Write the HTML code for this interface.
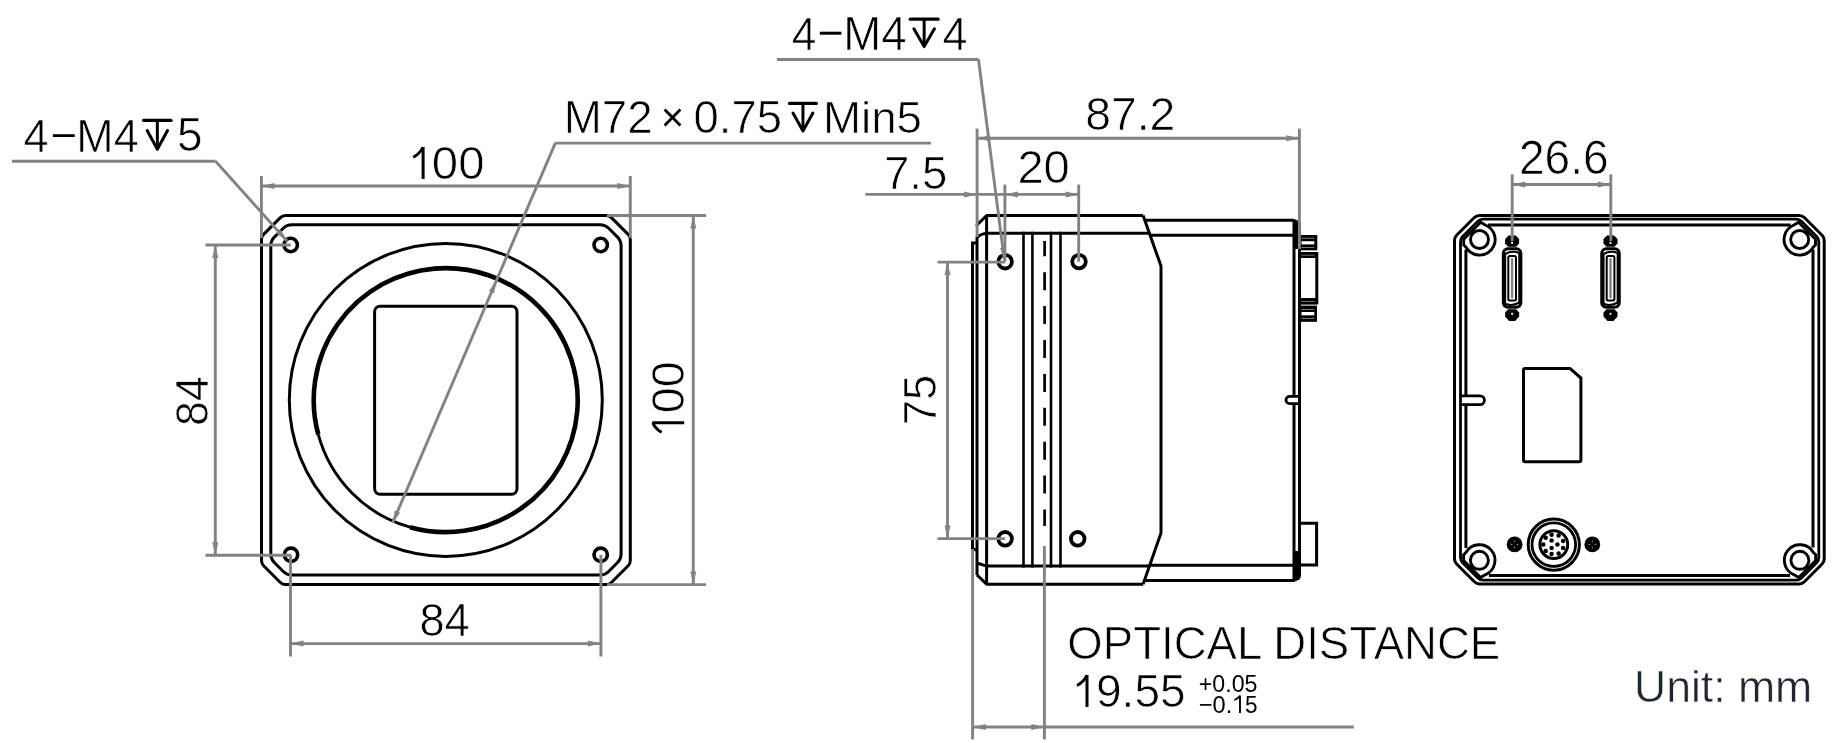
<!DOCTYPE html>
<html><head><meta charset="utf-8"><style>
html,body{margin:0;padding:0;background:#fff;overflow:hidden}
svg{display:block;will-change:transform}
text{font-family:"Liberation Sans",sans-serif;white-space:pre}
</style></head><body>
<svg width="1837" height="743" viewBox="0 0 1837 743">
<rect width="1837" height="743" fill="#fff"/>
<path d="M280.38,217.62 Q282.5,215.5 285.5,215.5 L606.3,215.5 Q609.3,215.5 611.42,217.62 L628.18,234.38 Q630.3,236.5 630.3,239.5 L630.3,560.6 Q630.3,563.6 628.18,565.72 L611.42,582.48 Q609.3,584.6 606.3,584.6 L285.5,584.6 Q282.5,584.6 280.38,582.48 L263.62,565.72 Q261.5,563.6 261.5,560.6 L261.5,239.5 Q261.5,236.5 263.62,234.38 Z" stroke="#000" stroke-width="3" fill="none" stroke-linejoin="round" stroke-linecap="butt"/>
<path d="M283.26,228.24 Q286.8,224.7 291.8,224.7 L600.1,224.7 Q605.1,224.7 608.64,228.24 L617.56,237.16 Q621.1,240.7 621.1,245.7 L621.1,554 Q621.1,559 617.56,562.54 L608.64,571.46 Q605.1,575 600.1,575 L291.8,575 Q286.8,575 283.26,571.46 L274.34,562.54 Q270.8,559 270.8,554 L270.8,245.7 Q270.8,240.7 274.34,237.16 Z" stroke="#000" stroke-width="3" fill="none" stroke-linejoin="round" stroke-linecap="butt"/>
<circle cx="290.7" cy="245" r="6.7" stroke="#000" stroke-width="3.6" fill="none"/>
<circle cx="600.7" cy="245" r="6.7" stroke="#000" stroke-width="3.6" fill="none"/>
<circle cx="291" cy="554.8" r="6.7" stroke="#000" stroke-width="3.6" fill="none"/>
<circle cx="600.7" cy="554.8" r="6.7" stroke="#000" stroke-width="3.6" fill="none"/>
<circle cx="445.8" cy="399.9" r="156.5" stroke="#000" stroke-width="3" fill="none"/>
<path d="M318.32,434.71 A132,132 0 1 1 409.98,527.18" stroke="#000" stroke-width="4.6" fill="none" stroke-linejoin="round" stroke-linecap="butt"/>
<path d="M409.98,527.18 A132,132 0 0 1 318.32,434.71" stroke="#000" stroke-width="2.9" fill="none" stroke-linejoin="round" stroke-linecap="butt"/>
<rect x="374.6" y="306.2" width="142.4" height="188.1" rx="5.5" stroke="#000" stroke-width="3" fill="none"/>
<line x1="261.4" y1="176" x2="261.4" y2="238" stroke="#828282" stroke-width="2.9" stroke-linecap="butt"/>
<line x1="630.3" y1="176" x2="630.3" y2="238" stroke="#828282" stroke-width="2.9" stroke-linecap="butt"/>
<line x1="261.4" y1="186" x2="630.3" y2="186" stroke="#828282" stroke-width="2.9" stroke-linecap="butt"/>
<path d="M261.4,186 L274.4,183 L274.4,189 Z" fill="#828282"/>
<path d="M630.3,186 L617.3,189 L617.3,183 Z" fill="#828282"/>
<text transform="translate(431.86,179.38) scale(1.0142,1)" font-size="46.620" fill="#000" stroke="#fff" stroke-width="0.7">00</text>
<path d="M413.2,157.3 Q419.5,154.3 423.1,147.2" stroke="#000" stroke-width="2.9" fill="none" stroke-linejoin="round" stroke-linecap="butt"/>
<line x1="423.1" y1="147" x2="423.1" y2="179" stroke="#000" stroke-width="3" stroke-linecap="butt"/>
<line x1="12" y1="161.3" x2="215.6" y2="161.3" stroke="#828282" stroke-width="2.9" stroke-linecap="butt"/>
<line x1="215.6" y1="161.3" x2="287" y2="241" stroke="#828282" stroke-width="2.9" stroke-linecap="butt"/>
<path d="M286.5,240.5 L276.26,233.56 L280.73,229.56 Z" fill="#828282"/>
<text transform="translate(23.55,151.55) scale(0.9566,1)" font-size="47.143" fill="#000" stroke="#fff" stroke-width="0.7">4</text>
<line x1="52.9" y1="135.6" x2="74.7" y2="135.6" stroke="#000" stroke-width="2.8" stroke-linecap="butt"/>
<text transform="translate(76.36,151.55) scale(0.9512,1)" font-size="47.143" fill="#000" stroke="#fff" stroke-width="0.7">M4</text>
<line x1="143.6" y1="120.3" x2="171.1" y2="120.3" stroke="#000" stroke-width="3.2" stroke-linecap="round"/>
<line x1="157.35" y1="120.3" x2="157.35" y2="148.2" stroke="#000" stroke-width="3" stroke-linecap="butt"/>
<path d="M147.18,130.47 L157.35,149.2 L167.52,130.47" stroke="#000" stroke-width="3" fill="none" stroke-linejoin="round" stroke-linecap="round"/>
<text transform="translate(177.01,151.37) scale(0.9661,1)" font-size="47.571" fill="#000" stroke="#fff" stroke-width="0.7">5</text>
<line x1="205.5" y1="245" x2="290.7" y2="245" stroke="#828282" stroke-width="2.9" stroke-linecap="butt"/>
<line x1="205.5" y1="555.2" x2="291" y2="555.2" stroke="#828282" stroke-width="2.9" stroke-linecap="butt"/>
<line x1="215.3" y1="245" x2="215.3" y2="555.2" stroke="#828282" stroke-width="2.9" stroke-linecap="butt"/>
<path d="M215.3,245 L218.3,258 L212.3,258 Z" fill="#828282"/>
<path d="M215.3,555.2 L212.3,542.2 L218.3,542.2 Z" fill="#828282"/>
<text transform="translate(208.38,425.94) rotate(-90) scale(0.9533,1)" font-size="46.901" fill="#000" stroke="#fff" stroke-width="0.7">84</text>
<line x1="607" y1="215.5" x2="706" y2="215.5" stroke="#828282" stroke-width="2.9" stroke-linecap="butt"/>
<line x1="607" y1="584.6" x2="706" y2="584.6" stroke="#828282" stroke-width="2.9" stroke-linecap="butt"/>
<line x1="693.3" y1="215.5" x2="693.3" y2="584.6" stroke="#828282" stroke-width="2.9" stroke-linecap="butt"/>
<path d="M693.3,215.5 L696.3,228.5 L690.3,228.5 Z" fill="#828282"/>
<path d="M693.3,584.6 L690.3,571.6 L696.3,571.6 Z" fill="#828282"/>
<text transform="translate(684.29,413.32) rotate(-90) scale(1.0047,1)" font-size="46.479" fill="#000" stroke="#fff" stroke-width="0.7">00</text>
<path d="M652.7,422.8 Q655.7,429.2 661.7,432.2" stroke="#000" stroke-width="2.9" fill="none" stroke-linejoin="round" stroke-linecap="butt"/>
<line x1="652.2" y1="422.8" x2="684.2" y2="422.8" stroke="#000" stroke-width="3" stroke-linecap="butt"/>
<line x1="290.5" y1="555" x2="290.5" y2="656.5" stroke="#828282" stroke-width="2.9" stroke-linecap="butt"/>
<line x1="600.9" y1="555" x2="600.9" y2="656.5" stroke="#828282" stroke-width="2.9" stroke-linecap="butt"/>
<line x1="290.5" y1="643.6" x2="600.9" y2="643.6" stroke="#828282" stroke-width="2.9" stroke-linecap="butt"/>
<path d="M290.5,643.6 L303.5,640.6 L303.5,646.6 Z" fill="#828282"/>
<path d="M600.9,643.6 L587.9,646.6 L587.9,640.6 Z" fill="#828282"/>
<text transform="translate(419.44,636.38) scale(0.9627,1)" font-size="47.042" fill="#000" stroke="#fff" stroke-width="0.7">84</text>
<line x1="554.8" y1="143.1" x2="930.9" y2="143.1" stroke="#828282" stroke-width="2.9" stroke-linecap="butt"/>
<line x1="555.3" y1="143.1" x2="392.7" y2="522.7" stroke="#828282" stroke-width="2.9" stroke-linecap="butt"/>
<path d="M392.7,522.7 L394.85,510.57 L400,512.77 Z" fill="#828282"/>
<path d="M496.2,281 L494.05,293.13 L488.9,290.93 Z" fill="#828282"/>
<text transform="translate(563.69,133.35) scale(1.0043,1)" font-size="45.571" fill="#000" stroke="#fff" stroke-width="0.7">M72</text>
<line x1="664.6" y1="109.6" x2="680.4" y2="125.4" stroke="#000" stroke-width="2.8" stroke-linecap="butt"/>
<line x1="680.4" y1="109.6" x2="664.6" y2="125.4" stroke="#000" stroke-width="2.8" stroke-linecap="butt"/>
<text transform="translate(693.53,133.38) scale(0.9745,1)" font-size="46.620" fill="#000" stroke="#fff" stroke-width="0.7">0.75</text>
<line x1="789.5" y1="103.4" x2="816.4" y2="103.4" stroke="#000" stroke-width="3.2" stroke-linecap="round"/>
<line x1="802.95" y1="103.4" x2="802.95" y2="129.9" stroke="#000" stroke-width="3" stroke-linecap="butt"/>
<path d="M792.99,113.06 L802.95,130.9 L812.91,113.06" stroke="#000" stroke-width="3" fill="none" stroke-linejoin="round" stroke-linecap="round"/>
<text transform="translate(822.99,133) scale(1.0157,1)" font-size="45.000" fill="#000" stroke="#fff" stroke-width="0.7">Min5</text>
<line x1="986.6" y1="215.5" x2="1143.1" y2="215.5" stroke="#000" stroke-width="3" stroke-linecap="butt"/>
<line x1="986.6" y1="215.5" x2="977" y2="225" stroke="#000" stroke-width="3" stroke-linecap="round"/>
<line x1="986.6" y1="215.5" x2="986.6" y2="584.2" stroke="#000" stroke-width="3" stroke-linecap="butt"/>
<path d="M986.6,233.3 L1149.5,233.3" stroke="#000" stroke-width="3" fill="none" stroke-linejoin="round" stroke-linecap="butt"/>
<path d="M986.6,233.3 Q980,234.2 977,237.5 L977,575" stroke="#000" stroke-width="3" fill="none" stroke-linejoin="round" stroke-linecap="butt"/>
<path d="M977,243 L972.5,243 L972.5,548.5 L977,550.5" stroke="#000" stroke-width="3" fill="none" stroke-linejoin="miter" stroke-linecap="butt"/>
<path d="M977,563 L986.6,566.1 L1149.4,566.1" stroke="#000" stroke-width="3" fill="none" stroke-linejoin="round" stroke-linecap="butt"/>
<path d="M977,575 L986.6,584.2 L1143.1,584.2" stroke="#000" stroke-width="3" fill="none" stroke-linejoin="round" stroke-linecap="butt"/>
<path d="M1143.1,215.5 L1161,266 Q1161,268 1161,271 L1161,529.6 Q1161,532 1161,533 L1143.1,584.2" stroke="#000" stroke-width="3" fill="none" stroke-linejoin="round" stroke-linecap="butt"/>
<line x1="1144.8" y1="220.2" x2="1294.2" y2="220.2" stroke="#000" stroke-width="3" stroke-linecap="butt"/>
<line x1="1294.2" y1="220.2" x2="1297.5" y2="222.3" stroke="#000" stroke-width="3" stroke-linecap="butt"/>
<line x1="1150.2" y1="235.3" x2="1294" y2="235.3" stroke="#000" stroke-width="3" stroke-linecap="butt"/>
<line x1="1149.7" y1="565.3" x2="1294" y2="565.3" stroke="#000" stroke-width="3" stroke-linecap="butt"/>
<line x1="1144.4" y1="580.4" x2="1295" y2="580.4" stroke="#000" stroke-width="3" stroke-linecap="butt"/>
<line x1="1294.8" y1="580.4" x2="1300" y2="576" stroke="#000" stroke-width="3" stroke-linecap="butt"/>
<line x1="1294" y1="220.2" x2="1294" y2="396.5" stroke="#000" stroke-width="3" stroke-linecap="butt"/>
<line x1="1294" y1="403.5" x2="1294" y2="580.4" stroke="#000" stroke-width="3" stroke-linecap="butt"/>
<line x1="1299.5" y1="222" x2="1299.5" y2="576.5" stroke="#000" stroke-width="3" stroke-linecap="butt"/>
<rect x="1294" y="221" width="5.5" height="28" fill="#000"/>
<rect x="1294" y="551" width="5.5" height="29" fill="#000"/>
<path d="M1299.5,396.4 L1289.6,396.4 A3.6,3.6 0 0 0 1289.6,403.6 L1299.5,403.6" stroke="#000" stroke-width="2.8" fill="none" stroke-linejoin="round" stroke-linecap="butt"/>
<rect x="1300" y="235" width="17.3" height="15.3" fill="#000"/>
<rect x="1301.5" y="241.2" width="12.8" height="3.2" fill="#fff"/>
<rect x="1301.5" y="237.8" width="12.8" height="0.8" fill="#fff" opacity="0.6"/>
<rect x="1301.5" y="247.2" width="12.8" height="0.8" fill="#fff" opacity="0.6"/>
<path d="M1300,253.5 L1316.8,253.5 L1316.8,302.8 L1300,302.8" stroke="#000" stroke-width="3" fill="none"/>
<rect x="1300" y="252" width="17.3" height="6" fill="#000"/>
<rect x="1300" y="298" width="17.3" height="6.5" fill="#000"/>
<rect x="1301.5" y="254.8" width="13" height="0.7" fill="#fff" opacity="0.6"/>
<rect x="1301.5" y="301.1" width="13" height="0.7" fill="#fff" opacity="0.6"/>
<rect x="1300" y="305.6" width="17" height="16.2" fill="#000"/>
<rect x="1301.5" y="312" width="12.8" height="3.3" fill="#fff"/>
<rect x="1301.5" y="309" width="12.8" height="0.8" fill="#fff" opacity="0.6"/>
<rect x="1301.5" y="318" width="12.8" height="0.8" fill="#fff" opacity="0.6"/>
<path d="M1299.5,523.3 L1316.6,523.3 L1316.6,565 L1299.5,565" stroke="#000" stroke-width="3" fill="none" stroke-linejoin="miter" stroke-linecap="butt"/>
<line x1="1023.5" y1="231.8" x2="1023.5" y2="567.5" stroke="#000" stroke-width="2.6" stroke-linecap="butt"/>
<line x1="1032.4" y1="231.8" x2="1032.4" y2="567.5" stroke="#000" stroke-width="2.6" stroke-linecap="butt"/>
<line x1="1051" y1="231.8" x2="1051" y2="567.5" stroke="#000" stroke-width="2.6" stroke-linecap="butt"/>
<line x1="1060.5" y1="231.8" x2="1060.5" y2="567.5" stroke="#000" stroke-width="2.6" stroke-linecap="butt"/>
<line x1="1044.6" y1="241" x2="1044.6" y2="526" stroke="#000" stroke-width="2.7" stroke-dasharray="18 15.9" stroke-dashoffset="2.7"/>
<circle cx="1005.1" cy="261.7" r="6.8" stroke="#000" stroke-width="3.8" fill="none"/>
<circle cx="1079" cy="261.6" r="6.8" stroke="#000" stroke-width="3.8" fill="none"/>
<circle cx="1005.1" cy="538.8" r="6.8" stroke="#000" stroke-width="3.8" fill="none"/>
<circle cx="1077.7" cy="538.8" r="6.8" stroke="#000" stroke-width="3.8" fill="none"/>
<line x1="977.1" y1="128.6" x2="977.1" y2="237" stroke="#828282" stroke-width="2.9" stroke-linecap="butt"/>
<line x1="1299.4" y1="128.6" x2="1299.4" y2="249" stroke="#828282" stroke-width="2.9" stroke-linecap="butt"/>
<line x1="977.1" y1="138.3" x2="1299.4" y2="138.3" stroke="#828282" stroke-width="2.9" stroke-linecap="butt"/>
<path d="M977.1,138.3 L990.1,135.3 L990.1,141.3 Z" fill="#828282"/>
<path d="M1299.4,138.3 L1286.4,141.3 L1286.4,135.3 Z" fill="#828282"/>
<text transform="translate(1085.2,129.8) scale(1.0219,1)" font-size="45.352" fill="#000" stroke="#fff" stroke-width="0.7">87.2</text>
<line x1="865.4" y1="194.4" x2="1078.7" y2="194.4" stroke="#828282" stroke-width="2.9" stroke-linecap="butt"/>
<path d="M977.1,194.4 L964.1,197.4 L964.1,191.4 Z" fill="#828282"/>
<line x1="1004.9" y1="184.6" x2="1004.9" y2="261.7" stroke="#828282" stroke-width="2.9" stroke-linecap="butt"/>
<line x1="1078.7" y1="184.6" x2="1078.7" y2="261.7" stroke="#828282" stroke-width="2.9" stroke-linecap="butt"/>
<path d="M1004.9,194.4 L1017.9,191.4 L1017.9,197.4 Z" fill="#828282"/>
<path d="M1078.7,194.4 L1065.7,197.4 L1065.7,191.4 Z" fill="#828282"/>
<text transform="translate(883.97,188.59) scale(0.9935,1)" font-size="45.915" fill="#000" stroke="#fff" stroke-width="0.7">7.5</text>
<text transform="translate(1017.39,183.48) scale(1.0085,1)" font-size="46.761" fill="#000" stroke="#fff" stroke-width="0.7">20</text>
<line x1="776.9" y1="59.5" x2="978.5" y2="59.5" stroke="#828282" stroke-width="2.9" stroke-linecap="butt"/>
<line x1="978.5" y1="59.5" x2="1004.2" y2="259" stroke="#828282" stroke-width="2.9" stroke-linecap="butt"/>
<path d="M1004.4,259.5 L1000.09,247.95 L1005.65,247.24 Z" fill="#828282"/>
<text transform="translate(791.66,49.55) scale(0.9400,1)" font-size="47.143" fill="#000" stroke="#fff" stroke-width="0.7">4</text>
<line x1="819.8" y1="33.2" x2="841.4" y2="33.2" stroke="#000" stroke-width="3" stroke-linecap="butt"/>
<text transform="translate(843.3,49.55) scale(0.9678,1)" font-size="47.143" fill="#000" stroke="#fff" stroke-width="0.7">M4</text>
<line x1="910.2" y1="19.2" x2="938.1" y2="19.2" stroke="#000" stroke-width="3.2" stroke-linecap="round"/>
<line x1="924.15" y1="19.2" x2="924.15" y2="45.6" stroke="#000" stroke-width="3" stroke-linecap="butt"/>
<path d="M913.85,28.82 L924.15,46.6 L934.45,28.82" stroke="#000" stroke-width="3" fill="none" stroke-linejoin="round" stroke-linecap="round"/>
<text transform="translate(942.55,49.55) scale(0.9525,1)" font-size="47.143" fill="#000" stroke="#fff" stroke-width="0.7">4</text>
<line x1="937.5" y1="262.1" x2="1005.1" y2="262.1" stroke="#828282" stroke-width="2.9" stroke-linecap="butt"/>
<line x1="937.5" y1="538.6" x2="1005.1" y2="538.6" stroke="#828282" stroke-width="2.9" stroke-linecap="butt"/>
<line x1="947.5" y1="262.1" x2="947.5" y2="538.6" stroke="#828282" stroke-width="2.9" stroke-linecap="butt"/>
<path d="M947.5,262.1 L950.5,275.1 L944.5,275.1 Z" fill="#828282"/>
<path d="M947.5,538.6 L944.5,525.6 L950.5,525.6 Z" fill="#828282"/>
<text transform="translate(935.79,425.32) rotate(-90) scale(0.9787,1)" font-size="46.479" fill="#000" stroke="#fff" stroke-width="0.7">75</text>
<line x1="972.6" y1="549" x2="972.6" y2="739.4" stroke="#828282" stroke-width="2.9" stroke-linecap="butt"/>
<line x1="1044.4" y1="546" x2="1044.4" y2="739.4" stroke="#828282" stroke-width="2.9" stroke-linecap="butt"/>
<line x1="972.6" y1="727" x2="1353.9" y2="727" stroke="#828282" stroke-width="2.9" stroke-linecap="butt"/>
<path d="M972.6,727 L985.6,724 L985.6,730 Z" fill="#828282"/>
<path d="M1044.4,727 L1031.4,730 L1031.4,724 Z" fill="#828282"/>
<text transform="translate(1067.37,659.19) scale(0.9957,1)" font-size="45.775" fill="#000" stroke="#fff" stroke-width="0.7">OPTICAL DISTANCE</text>
<text transform="translate(1096.05,707.38) scale(0.9808,1)" font-size="46.901" fill="#000" stroke="#fff" stroke-width="0.7">9.55</text>
<path d="M1077,685.5 Q1083.6,682.4 1087,675.2" stroke="#000" stroke-width="2.9" fill="none" stroke-linejoin="round" stroke-linecap="butt"/>
<line x1="1087" y1="675" x2="1087" y2="707" stroke="#000" stroke-width="3" stroke-linecap="butt"/>
<text transform="translate(1198.84,691.56) scale(0.9631,1)" font-size="24.085" fill="#000" >+0.05</text>
<text transform="translate(1198.82,712.76) scale(0.9683,1)" font-size="24.366" fill="#000" >−0.</text>
<text transform="translate(1245.1,712.76) scale(0.9232,1)" font-size="24.429" fill="#000" >5</text>
<line x1="1240" y1="695.6" x2="1240" y2="712.9" stroke="#000" stroke-width="1.9" stroke-linecap="butt"/>
<path d="M1234.4,700 Q1238.2,698.6 1240,695.8" stroke="#000" stroke-width="1.8" fill="none" stroke-linejoin="round" stroke-linecap="butt"/>
<path d="M1474.38,217.52 Q1476.5,215.4 1479.5,215.4 L1799.2,215.4 Q1802.2,215.4 1804.32,217.52 L1822.08,235.28 Q1824.2,237.4 1824.2,240.4 L1824.2,558.9 Q1824.2,561.9 1822.08,564.02 L1804.32,581.78 Q1802.2,583.9 1799.2,583.9 L1479.5,583.9 Q1476.5,583.9 1474.38,581.78 L1456.62,564.02 Q1454.5,561.9 1454.5,558.9 L1454.5,240.4 Q1454.5,237.4 1456.62,235.28 Z" stroke="#000" stroke-width="3" fill="none" stroke-linejoin="round" stroke-linecap="butt"/>
<path d="M1477.88,221.22 Q1480,219.1 1483,219.1 L1796.3,219.1 Q1799.3,219.1 1801.42,221.22 L1816.68,236.48 Q1818.8,238.6 1818.8,241.6 L1818.8,557.6 Q1818.8,560.6 1816.68,562.72 L1801.42,577.98 Q1799.3,580.1 1796.3,580.1 L1483,580.1 Q1480,580.1 1477.88,577.98 L1462.62,562.72 Q1460.5,560.6 1460.5,557.6 L1460.5,241.6 Q1460.5,238.6 1462.62,236.48 Z" stroke="#000" stroke-width="2.8" fill="none" stroke-linejoin="round" stroke-linecap="butt"/>
<line x1="1488" y1="225" x2="1790.6" y2="225" stroke="#000" stroke-width="3" stroke-linecap="butt"/>
<line x1="1489" y1="575.4" x2="1790" y2="575.4" stroke="#000" stroke-width="3" stroke-linecap="butt"/>
<line x1="1465.9" y1="249.6" x2="1465.9" y2="395.8" stroke="#000" stroke-width="3" stroke-linecap="butt"/>
<line x1="1465.9" y1="404.7" x2="1465.9" y2="548" stroke="#000" stroke-width="3" stroke-linecap="butt"/>
<line x1="1813" y1="249.5" x2="1813" y2="547.5" stroke="#000" stroke-width="3" stroke-linecap="butt"/>
<path d="M1461,395.8 L1480,395.8 A4.45,4.45 0 0 1 1480,404.7 L1461,404.7" stroke="#000" stroke-width="2.8" fill="none" stroke-linejoin="round" stroke-linecap="butt"/>
<path d="M1485.3,225 A15.6,15.6 0 1 1 1466,247.3 L1463.7,245 L1463.7,239.3 L1480.7,222.3 Z" stroke="#000" stroke-width="2.9" fill="none" stroke-linejoin="round" stroke-linecap="butt"/>
<circle cx="1479.5" cy="239.5" r="9" stroke="#000" stroke-width="2.9" fill="none"/>
<path d="M1793.9,225 A15.6,15.6 0 1 0 1813.2,247.3 L1815.5,245 L1815.5,239.3 L1798.5,222.3 Z" stroke="#000" stroke-width="2.9" fill="none" stroke-linejoin="round" stroke-linecap="butt"/>
<circle cx="1799.7" cy="239.5" r="9" stroke="#000" stroke-width="2.9" fill="none"/>
<path d="M1485.2,574.8 A15.6,15.6 0 1 0 1465.9,552.5 L1463.6,554.8 L1463.6,560.5 L1480.6,577.5 Z" stroke="#000" stroke-width="2.9" fill="none" stroke-linejoin="round" stroke-linecap="butt"/>
<circle cx="1479.4" cy="560.3" r="9" stroke="#000" stroke-width="2.9" fill="none"/>
<path d="M1794.1,574.8 A15.6,15.6 0 1 1 1813.4,552.5 L1815.7,554.8 L1815.7,560.5 L1798.7,577.5 Z" stroke="#000" stroke-width="2.9" fill="none" stroke-linejoin="round" stroke-linecap="butt"/>
<circle cx="1799.9" cy="560.3" r="9" stroke="#000" stroke-width="2.9" fill="none"/>
<path d="M1508.6,235.6 L1515.6,235.6 L1519.1,239 L1519.1,243.5 L1516.1,246.8 L1508.1,246.8 L1505.1,243.5 L1505.1,239 Z" fill="#000"/>
<circle cx="1512.1" cy="242.9" r="1.1" stroke="none" stroke-width="0" fill="#fff"/>
<path d="M1508.1,309.2 L1516.1,309.2 L1519.1,312.4 L1519.1,316.5 L1515.1,320.9 L1509.1,320.9 L1505.1,316.5 L1505.1,312.4 Z" fill="#000"/>
<circle cx="1512.1" cy="313.8" r="1.1" stroke="none" stroke-width="0" fill="#fff"/>
<rect x="1503.4" y="248.7" width="17.4" height="58.6" rx="4.5" stroke="#000" stroke-width="3.1" fill="none"/>
<path d="M1505.1,254 Q1512.1,250.2 1519.3,253.0 L1519.3,302.5 Q1512.1,306.6 1505.1,303.8 Z" stroke="#000" stroke-width="2.1" fill="none" stroke-linejoin="round"/>
<rect x="1508.3" y="256" width="7.7" height="44.6" rx="1.5" stroke="#000" stroke-width="2" fill="none"/>
<rect x="1510.9" y="258.2" width="2.4" height="40" fill="#828282"/>
<path d="M1607,235.6 L1614,235.6 L1617.5,239 L1617.5,243.5 L1614.5,246.8 L1606.5,246.8 L1603.5,243.5 L1603.5,239 Z" fill="#000"/>
<circle cx="1610.5" cy="242.9" r="1.1" stroke="none" stroke-width="0" fill="#fff"/>
<path d="M1606.5,309.2 L1614.5,309.2 L1617.5,312.4 L1617.5,316.5 L1613.5,320.9 L1607.5,320.9 L1603.5,316.5 L1603.5,312.4 Z" fill="#000"/>
<circle cx="1610.5" cy="313.8" r="1.1" stroke="none" stroke-width="0" fill="#fff"/>
<rect x="1601.8" y="248.7" width="17.4" height="58.6" rx="4.5" stroke="#000" stroke-width="3.1" fill="none"/>
<path d="M1603.5,254 Q1610.5,250.2 1617.7,253.0 L1617.7,302.5 Q1610.5,306.6 1603.5,303.8 Z" stroke="#000" stroke-width="2.1" fill="none" stroke-linejoin="round"/>
<rect x="1606.7" y="256" width="7.7" height="44.6" rx="1.5" stroke="#000" stroke-width="2" fill="none"/>
<rect x="1609.3" y="258.2" width="2.4" height="40" fill="#828282"/>
<path d="M1525,368.4 L1569.9,368.4 L1580.9,378 L1580.9,460 Q1580.9,461.7 1579.2,461.7 L1525,461.7 Q1523.5,461.7 1523.5,460 L1523.5,370 Q1523.5,368.4 1525,368.4 Z" stroke="#000" stroke-width="3" fill="none" stroke-linejoin="round" stroke-linecap="butt"/>
<circle cx="1553.8" cy="544.6" r="25.5" stroke="#000" stroke-width="3.2" fill="none"/>
<circle cx="1553.8" cy="544.6" r="21.9" stroke="#000" stroke-width="3" fill="none"/>
<circle cx="1553.8" cy="544.6" r="23.7" stroke="#fff" stroke-width="0.7" fill="none"/>
<circle cx="1553.8" cy="544.6" r="13.9" stroke="#000" stroke-width="3.0" fill="none"/>
<circle cx="1551.6" cy="534.7" r="2.25" stroke="none" stroke-width="0" fill="#000"/>
<circle cx="1558.6" cy="535.4" r="2.25" stroke="none" stroke-width="0" fill="#000"/>
<circle cx="1545.7" cy="537.8" r="2.25" stroke="none" stroke-width="0" fill="#000"/>
<circle cx="1551.6" cy="540.6" r="2.25" stroke="none" stroke-width="0" fill="#000"/>
<circle cx="1563.1" cy="540.9" r="2.25" stroke="none" stroke-width="0" fill="#000"/>
<circle cx="1543.3" cy="544.4" r="2.25" stroke="none" stroke-width="0" fill="#000"/>
<circle cx="1557.4" cy="544.4" r="2.25" stroke="none" stroke-width="0" fill="#000"/>
<circle cx="1551.6" cy="548.1" r="2.25" stroke="none" stroke-width="0" fill="#000"/>
<circle cx="1563.1" cy="548.1" r="2.25" stroke="none" stroke-width="0" fill="#000"/>
<circle cx="1545.7" cy="551" r="2.25" stroke="none" stroke-width="0" fill="#000"/>
<circle cx="1551.6" cy="554.1" r="2.25" stroke="none" stroke-width="0" fill="#000"/>
<circle cx="1558.6" cy="553.5" r="2.25" stroke="none" stroke-width="0" fill="#000"/>
<circle cx="1514.6" cy="544.4" r="7.9" stroke="none" stroke-width="0" fill="#000"/>
<path d="M1510.6,544.4 h2 M1516.6,544.4 h2 M1514.6,540.4 v2 M1514.6,546.4 v2" stroke="#fff" stroke-width="0.7" opacity="0.8"/>
<circle cx="1592.3" cy="544.4" r="7.9" stroke="none" stroke-width="0" fill="#000"/>
<path d="M1588.3,544.4 h2 M1594.3,544.4 h2 M1592.3,540.4 v2 M1592.3,546.4 v2" stroke="#fff" stroke-width="0.7" opacity="0.8"/>
<line x1="1512.2" y1="174.4" x2="1512.2" y2="241" stroke="#828282" stroke-width="2.9" stroke-linecap="butt"/>
<line x1="1610.8" y1="174.4" x2="1610.8" y2="241" stroke="#828282" stroke-width="2.9" stroke-linecap="butt"/>
<line x1="1512.2" y1="184.5" x2="1610.8" y2="184.5" stroke="#828282" stroke-width="2.9" stroke-linecap="butt"/>
<path d="M1512.2,184.5 L1525.2,181.5 L1525.2,187.5 Z" fill="#828282"/>
<path d="M1610.8,184.5 L1597.8,187.5 L1597.8,181.5 Z" fill="#828282"/>
<text transform="translate(1518.95,173.68) scale(0.9761,1)" font-size="47.183" fill="#000" stroke="#fff" stroke-width="0.7">26.6</text>
<text transform="translate(1633.93,701.86) scale(1.0152,1)" font-size="43.919" fill="#1f2631" stroke="#fff" stroke-width="0.5">Unit: mm</text>
</svg></body></html>
